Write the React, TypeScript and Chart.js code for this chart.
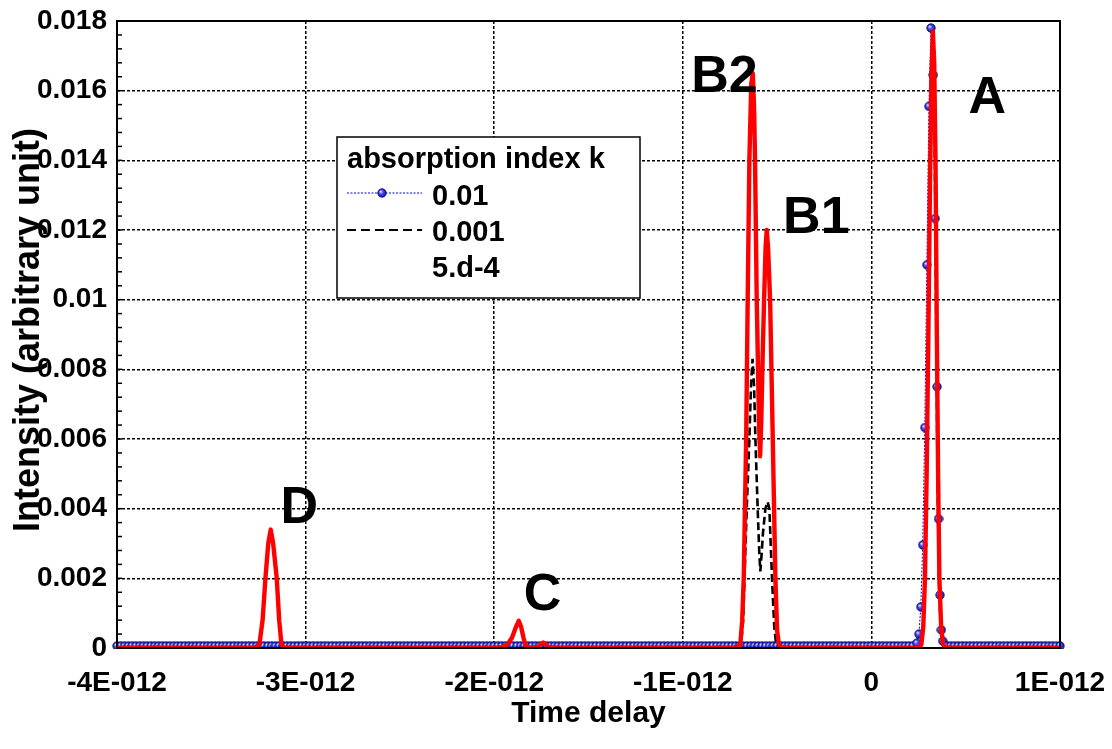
import React, { useEffect, useRef } from 'react';
import { Chart, registerables } from 'chart.js';

Chart.register(...registerables);

const FONT = "'Liberation Sans', Arial, Helvetica, sans-serif";

// Axis ticks (x in picoseconds, labelled in seconds)
const xTickValues = [-4, -3, -2, -1, 0, 1];
const xTickLabels = ['-4E-012', '-3E-012', '-2E-012', '-1E-012', '0', '1E-012'];
const yTickValues = [0, 0.002, 0.004, 0.006, 0.008, 0.01, 0.012, 0.014, 0.016, 0.018];
const yTickLabels = ['0', '0.002', '0.004', '0.006', '0.008', '0.01', '0.012', '0.014', '0.016', '0.018'];

const xTitle = 'Time delay';
const yTitle = 'Intensity (arbitrary unit)';
const legendTitle = 'absorption index k';
const seriesNames = ['0.01', '0.001', '5.d-4'];

// Series k = 0.01 (blue, spheres) – times in ps
const blueTimes = [
  -4, -3.98, -3.96, -3.94, -3.92, -3.9, -3.88, -3.86, -3.84, -3.82, -3.8, -3.78, -3.76, -3.74, -3.72, -3.7, -3.68, -3.66, -3.64, -3.62, -3.6, -3.58, -3.56, -3.54, -3.52,
  -3.5, -3.48, -3.46, -3.44, -3.42, -3.4, -3.38, -3.36, -3.34, -3.32, -3.3, -3.28, -3.26, -3.24, -3.22, -3.2, -3.18, -3.16, -3.14, -3.12, -3.1, -3.08, -3.06, -3.04, -3.02,
  -3, -2.98, -2.96, -2.94, -2.92, -2.9, -2.88, -2.86, -2.84, -2.82, -2.8, -2.78, -2.76, -2.74, -2.72, -2.7, -2.68, -2.66, -2.64, -2.62, -2.6, -2.58, -2.56, -2.54, -2.52,
  -2.5, -2.48, -2.46, -2.44, -2.42, -2.4, -2.38, -2.36, -2.34, -2.32, -2.3, -2.28, -2.26, -2.24, -2.22, -2.2, -2.18, -2.16, -2.14, -2.12, -2.1, -2.08, -2.06, -2.04, -2.02,
  -2, -1.98, -1.96, -1.94, -1.92, -1.9, -1.88, -1.86, -1.84, -1.82, -1.8, -1.78, -1.76, -1.74, -1.72, -1.7, -1.68, -1.66, -1.64, -1.62, -1.6, -1.58, -1.56, -1.54, -1.52,
  -1.5, -1.48, -1.46, -1.44, -1.42, -1.4, -1.38, -1.36, -1.34, -1.32, -1.3, -1.28, -1.26, -1.24, -1.22, -1.2, -1.18, -1.16, -1.14, -1.12, -1.1, -1.08, -1.06, -1.04, -1.02,
  -1, -0.98, -0.96, -0.94, -0.92, -0.9, -0.88, -0.86, -0.84, -0.82, -0.8, -0.78, -0.76, -0.74, -0.72, -0.7, -0.68, -0.66, -0.64, -0.62, -0.6, -0.58, -0.56, -0.54, -0.52,
  -0.5, -0.48, -0.46, -0.44, -0.42, -0.4, -0.38, -0.36, -0.34, -0.32, -0.3, -0.28, -0.26, -0.24, -0.22, -0.2, -0.18, -0.16, -0.14, -0.12, -0.1, -0.08, -0.06, -0.04, -0.02,
  0, 0.02, 0.04, 0.06, 0.08, 0.1, 0.12, 0.14, 0.16, 0.18, 0.2, 0.22,
  0.241, 0.252, 0.262, 0.272, 0.283, 0.294, 0.305, 0.316, 0.328, 0.338, 0.348, 0.356, 0.364, 0.371, 0.378,
  0.4, 0.42, 0.44, 0.46, 0.48, 0.5, 0.52, 0.54, 0.56, 0.58, 0.6, 0.62, 0.64, 0.66, 0.68, 0.7,
  0.72, 0.74, 0.76, 0.78, 0.8, 0.82, 0.84, 0.86, 0.88, 0.9, 0.92, 0.94, 0.96, 0.98, 1,
];
const blueValues = [
  6e-5, 6e-5, 6e-5, 6e-5, 6e-5, 6e-5, 6e-5, 6e-5, 6e-5, 6e-5, 6e-5, 6e-5, 6e-5, 6e-5, 6e-5, 6e-5, 6e-5, 6e-5, 6e-5, 6e-5, 6e-5, 6e-5, 6e-5, 6e-5, 6e-5,
  6e-5, 6e-5, 6e-5, 6e-5, 6e-5, 6e-5, 6e-5, 6e-5, 6e-5, 6e-5, 6e-5, 6e-5, 6e-5, 6e-5, 6e-5, 6e-5, 6e-5, 6e-5, 6e-5, 6e-5, 6e-5, 6e-5, 6e-5, 6e-5, 6e-5,
  6e-5, 6e-5, 6e-5, 6e-5, 6e-5, 6e-5, 6e-5, 6e-5, 6e-5, 6e-5, 6e-5, 6e-5, 6e-5, 6e-5, 6e-5, 6e-5, 6e-5, 6e-5, 6e-5, 6e-5, 6e-5, 6e-5, 6e-5, 6e-5, 6e-5,
  6e-5, 6e-5, 6e-5, 6e-5, 6e-5, 6e-5, 6e-5, 6e-5, 6e-5, 6e-5, 6e-5, 6e-5, 6e-5, 6e-5, 6e-5, 6e-5, 6e-5, 6e-5, 6e-5, 6e-5, 6e-5, 6e-5, 6e-5, 6e-5, 6e-5,
  6e-5, 6e-5, 6e-5, 6e-5, 6e-5, 6e-5, 6e-5, 6e-5, 6e-5, 6e-5, 6e-5, 6e-5, 6e-5, 6e-5, 6e-5, 6e-5, 6e-5, 6e-5, 6e-5, 6e-5, 6e-5, 6e-5, 6e-5, 6e-5, 6e-5,
  6e-5, 6e-5, 6e-5, 6e-5, 6e-5, 6e-5, 6e-5, 6e-5, 6e-5, 6e-5, 6e-5, 6e-5, 6e-5, 6e-5, 6e-5, 6e-5, 6e-5, 6e-5, 6e-5, 6e-5, 6e-5, 6e-5, 6e-5, 6e-5, 6e-5,
  6e-5, 6e-5, 6e-5, 6e-5, 6e-5, 6e-5, 6e-5, 6e-5, 6e-5, 6e-5, 6e-5, 6e-5, 6e-5, 6e-5, 6e-5, 6e-5, 6e-5, 6e-5, 6e-5, 6e-5, 6e-5, 6e-5, 6e-5, 6e-5, 6e-5,
  6e-5, 6e-5, 6e-5, 6e-5, 6e-5, 6e-5, 6e-5, 6e-5, 6e-5, 6e-5, 6e-5, 6e-5, 6e-5, 6e-5, 6e-5, 6e-5, 6e-5, 6e-5, 6e-5, 6e-5, 6e-5, 6e-5, 6e-5, 6e-5, 6e-5,
  6e-5, 6e-5, 6e-5, 6e-5, 6e-5, 6e-5, 6e-5, 6e-5, 6e-5, 6e-5, 6e-5, 6e-5,
  0.00014, 0.0004, 0.00118, 0.00296, 0.00633, 0.011, 0.01555, 0.0178, 0.01645, 0.01233, 0.0075, 0.00371, 0.00152, 0.00052, 0.0002,
  6e-5, 6e-5, 6e-5, 6e-5, 6e-5, 6e-5, 6e-5, 6e-5, 6e-5, 6e-5, 6e-5, 6e-5, 6e-5, 6e-5, 6e-5, 6e-5,
  6e-5, 6e-5, 6e-5, 6e-5, 6e-5, 6e-5, 6e-5, 6e-5, 6e-5, 6e-5, 6e-5, 6e-5, 6e-5, 6e-5, 6e-5,
];

// Series k = 0.001 (black dashed)
const blackTimes = [
  -4, -3.22, -3.19, -3.16, -1.91, -1.88, -1.85, -1.75, -1.725, -1.7,
  -0.72, -0.691, -0.68, -0.673, -0.661, -0.647, -0.638, -0.63, -0.622, -0.615, -0.603, -0.595, -0.589,
  -0.582, -0.575, -0.562, -0.55, -0.541, -0.527, -0.515, -0.505, -0.49,
  -0.06, -0.048, 0.002, 0.008,
  0.25, 0.265, 0.275, 0.284, 0.293, 0.301, 0.31, 0.317, 0.323, 0.33, 0.337, 0.344, 0.351, 0.358, 0.367, 0.378, 0.392,
  1,
];
const blackValues = [
  0, 0, 0.00012, 0, 0, 0.0001, 0, 0, 0.00006, 0,
  0, 0.0001, 0.0008, 0.002, 0.004, 0.006, 0.0076, 0.0083, 0.0075, 0.006, 0.004, 0.0028, 0.0022,
  0.0027, 0.0033, 0.004, 0.0042, 0.004, 0.002, 0.0006, 0.0001, 0,
  0, 0.0001, 0.0001, 0,
  0, 0.0001, 0.0007, 0.0022, 0.0055, 0.0095, 0.014, 0.0168, 0.0176, 0.0166, 0.0138, 0.0092, 0.0048, 0.002, 0.0006, 0.0001, 0,
  0,
];

// Series k = 5.d-4 (red solid)
const redTimes = [
  -4,
  -3.27, -3.245, -3.228, -3.213, -3.198, -3.185, -3.172, -3.153, -3.14, -3.128, -3.11,
  -2, -1.96, -1.93, -1.905, -1.885, -1.87, -1.857, -1.845, -1.832, -1.8, -1.77, -1.755, -1.74, -1.725, -1.71, -1.68,
  -0.72, -0.695, -0.685, -0.677, -0.664, -0.656, -0.647, -0.637, -0.629, -0.622, -0.617, -0.608, -0.596,
  -0.59, -0.584, -0.576, -0.569, -0.561, -0.555, -0.548, -0.537, -0.523, -0.509, -0.5, -0.49, -0.475,
  0.25, 0.265, 0.275, 0.284, 0.293, 0.302, 0.311, 0.319, 0.326, 0.333, 0.34, 0.347, 0.354, 0.3605, 0.37, 0.38, 0.395,
  1,
];
const redValues = [
  0,
  0, 0.0001, 0.0008, 0.002, 0.003, 0.0034, 0.003, 0.002, 0.0008, 0.0001, 0,
  0, 0.00002, 0.0001, 0.0003, 0.0006, 0.00078, 0.0006, 0.0003, 0.00005, 0, 0.00002, 0.0001, 0.00016, 0.0001, 0.00002, 0,
  0, 0.0001, 0.0008, 0.002, 0.006, 0.01, 0.014, 0.0162, 0.0165, 0.0155, 0.014, 0.01, 0.0065,
  0.0055, 0.0065, 0.0085, 0.01, 0.0115, 0.012, 0.0115, 0.01, 0.006, 0.002, 0.0005, 0.0001, 0,
  0, 0.0001, 0.0006, 0.002, 0.005, 0.009, 0.0135, 0.0165, 0.0177, 0.0168, 0.014, 0.009, 0.0048, 0.002, 0.0006, 0.0001, 0,
  0,
];

// Peak annotations (data coordinates of label centres)
const peakNames = ['A', 'B2', 'B1', 'C', 'D'];
const peakLabelTimes = [0.615, -0.779, -0.292, -1.744, -3.033];
const peakLabelValues = [0.0159, 0.0165, 0.01245, 0.00161, 0.00411];

function makeSphere(): HTMLCanvasElement {
  const c = document.createElement('canvas');
  c.width = 10;
  c.height = 10;
  const g = c.getContext('2d') as CanvasRenderingContext2D;
  const grad = g.createRadialGradient(3.6, 3.5, 0.4, 5, 5, 4.6);
  grad.addColorStop(0, '#e0e0ff');
  grad.addColorStop(0.35, '#5050ff');
  grad.addColorStop(1, '#0c0c9a');
  g.beginPath();
  g.arc(5, 5, 4.2, 0, Math.PI * 2);
  g.fillStyle = grad;
  g.fill();
  g.lineWidth = 0.8;
  g.strokeStyle = '#000050';
  g.stroke();
  return c;
}

export default function App() {
  const ref = useRef<HTMLCanvasElement | null>(null);

  useEffect(() => {
    const canvas = ref.current;
    if (!canvas) return;
    const sphere = makeSphere();

    const pairs = (ts: number[], vs: number[]) => ts.map((t, i) => ({ x: t, y: vs[i] }));

    const decor = {
      id: 'decor',
      afterDraw(chart: any) {
        const { ctx, chartArea: a, scales } = chart;
        const xs = scales.x;
        const ys = scales.y;
        ctx.save();
        // minor ticks on the left axis
        ctx.strokeStyle = '#000';
        ctx.lineWidth = 1.5;
        ctx.setLineDash([]);
        for (let i = 1; i < 45; i++) {
          const py = ys.getPixelForValue(i * 0.0004);
          ctx.beginPath();
          ctx.moveTo(a.left, py);
          ctx.lineTo(a.left + 5, py);
          ctx.stroke();
        }
        // frame
        ctx.lineWidth = 2;
        ctx.strokeRect(a.left, a.top, a.right - a.left, a.bottom - a.top);

        // peak labels
        ctx.fillStyle = '#000';
        ctx.font = `bold 52px ${FONT}`;
        ctx.textAlign = 'center';
        ctx.textBaseline = 'alphabetic';
        peakNames.forEach((n, i) => {
          const px = xs.getPixelForValue(peakLabelTimes[i]);
          const py = ys.getPixelForValue(peakLabelValues[i]);
          ctx.fillText(n, px, py + 18.5);
        });

        // y title overlapping tick labels
        ctx.save();
        ctx.translate(39, 330);
        ctx.rotate(-Math.PI / 2);
        ctx.font = `bold 36px ${FONT}`;
        ctx.textAlign = 'center';
        ctx.textBaseline = 'alphabetic';
        ctx.fillText(yTitle, 0, 0);
        ctx.restore();

        // legend
        const lx = 337, ly = 137, lw = 303, lh = 161;
        ctx.fillStyle = '#fff';
        ctx.fillRect(lx, ly, lw, lh);
        ctx.strokeStyle = '#000';
        ctx.lineWidth = 1.5;
        ctx.strokeRect(lx, ly, lw, lh);
        ctx.fillStyle = '#000';
        ctx.font = `bold 29px ${FONT}`;
        ctx.textAlign = 'left';
        ctx.fillText(legendTitle, 347, 168);
        ctx.fillText(seriesNames[0], 432, 205);
        ctx.fillText(seriesNames[1], 432, 241);
        ctx.fillText(seriesNames[2], 432, 277);
        // blue sample
        ctx.strokeStyle = '#0000ff';
        ctx.lineWidth = 1.2;
        ctx.setLineDash([2, 1.5]);
        ctx.beginPath();
        ctx.moveTo(347, 193);
        ctx.lineTo(422, 193);
        ctx.stroke();
        ctx.setLineDash([]);
        ctx.drawImage(sphere, 382 - 5, 193 - 5);
        // black sample
        ctx.strokeStyle = '#000';
        ctx.lineWidth = 2.2;
        ctx.setLineDash([9, 5]);
        ctx.beginPath();
        ctx.moveTo(347, 230);
        ctx.lineTo(422, 230);
        ctx.stroke();
        ctx.restore();
      },
    };

    const chart = new Chart(canvas, {
      type: 'line',
      data: {
        datasets: [
          {
            label: seriesNames[2],
            data: pairs(redTimes, redValues),
            borderColor: '#ff0000',
            backgroundColor: '#ff0000',
            borderWidth: 4.4,
            borderJoinStyle: 'round',
            pointRadius: 0,
            fill: false,
            tension: 0,
            order: 0,
          },
          {
            label: seriesNames[0],
            data: pairs(blueTimes, blueValues),
            borderColor: '#0000ff',
            backgroundColor: '#4040ff',
            borderWidth: 1,
            borderDash: [2, 1.5],
            pointStyle: sphere,
            pointRadius: 4.5,
            fill: false,
            tension: 0,
            order: 1,
            clip: { left: 6, right: 6, top: 6, bottom: 1 },
          },
          {
            label: seriesNames[1],
            data: pairs(blackTimes, blackValues),
            borderColor: '#000000',
            backgroundColor: '#000000',
            borderWidth: 2.6,
            borderDash: [8, 4],
            pointRadius: 0,
            fill: false,
            tension: 0,
            order: 2,
          },
        ] as any,
      },
      options: {
        animation: false,
        responsive: false,
        maintainAspectRatio: false,
        layout: { padding: { left: 0, right: 52, top: 21, bottom: 0 } },
        plugins: { legend: { display: false }, tooltip: { enabled: false } },
        scales: {
          x: {
            type: 'linear',
            min: -4,
            max: 1,
            afterBuildTicks: (s: any) => {
              s.ticks = xTickValues.map((v) => ({ value: v }));
            },
            afterFit: (s: any) => {
              s.height = 101;
              s.paddingLeft = 0;
              s.paddingRight = 0;
            },
            ticks: {
              autoSkip: false,
              maxRotation: 0,
              padding: 18,
              color: '#000',
              font: { family: FONT, size: 28, weight: 'bold' },
              callback: (v: any) => {
                const i = xTickValues.findIndex((t) => Math.abs(t - Number(v)) < 1e-9);
                return i >= 0 ? xTickLabels[i] : '';
              },
            },
            grid: { color: '#000', lineWidth: 1.5, drawTicks: false },
            border: { display: false, dash: [3, 2] },
            title: {
              display: true,
              text: xTitle,
              color: '#000',
              font: { family: FONT, size: 30, weight: 'bold' },
              padding: { top: 0, bottom: 17 },
            },
          },
          y: {
            type: 'linear',
            min: 0,
            max: 0.018,
            afterBuildTicks: (s: any) => {
              s.ticks = yTickValues.map((v) => ({ value: v }));
            },
            afterFit: (s: any) => {
              s.width = 117;
              s.paddingTop = 0;
              s.paddingBottom = 0;
            },
            ticks: {
              autoSkip: false,
              padding: 10,
              color: '#000',
              font: { family: FONT, size: 28, weight: 'bold' },
              callback: (v: any) => {
                const i = yTickValues.findIndex((t) => Math.abs(t - Number(v)) < 1e-9);
                return i >= 0 ? yTickLabels[i] : '';
              },
            },
            grid: { color: '#000', lineWidth: 1.5, drawTicks: false },
            border: { display: false, dash: [3, 2] },
          },
        },
      } as any,
      plugins: [decor],
    });

    return () => chart.destroy();
  }, []);

  return (
    <div style={{ position: 'absolute', left: 0, top: 0, width: 1112, height: 749, background: '#fff' }}>
      <canvas ref={ref} width={1112} height={749} style={{ display: 'block' }} />
    </div>
  );
}
